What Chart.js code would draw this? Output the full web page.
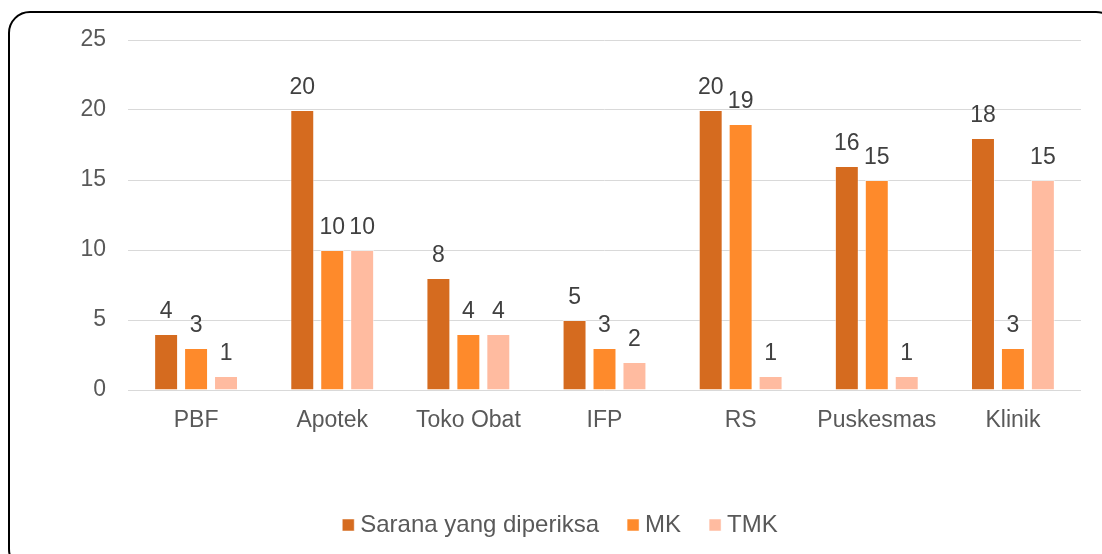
<!DOCTYPE html>
<html>
<head>
<meta charset="utf-8">
<script src="https://cdn.jsdelivr.net/npm/chart.js@4/dist/chart.umd.min.js"></script>
<style>
  html, body { margin: 0; padding: 0; background: #fff; }
  body { width: 1102px; height: 554px; position: relative; overflow: hidden; }
  #frame {
    position: absolute; left: 8px; top: 11px; width: 1110px; height: 560px;
    border: 2px solid #000; border-radius: 22px; box-sizing: border-box;
  }
  #wrap { position: absolute; left: 0; top: 0; width: 1102px; height: 554px; }
</style>
</head>
<body>
<div id="frame"></div>
<div id="wrap"><canvas id="chart" width="1102" height="554"></canvas></div>
<script>
const categories = ["PBF", "Apotek", "Toko Obat", "IFP", "RS", "Puskesmas", "Klinik"];
const sarana = [4, 20, 8, 5, 20, 16, 18];
const mk = [3, 10, 4, 3, 19, 15, 3];
const tmk = [1, 10, 4, 2, 1, 1, 15];
const yTicks = [0, 5, 10, 15, 20, 25];

const FONT = "'Liberation Sans', Arial, sans-serif";

// value above each bar
const valueLabels = {
    id: "valueLabels",
    afterDatasetsDraw(chart) {
        const ctx = chart.ctx;
        ctx.save();
        ctx.font = "23px " + FONT;
        ctx.fillStyle = "#404040";
        ctx.textAlign = "center";
        ctx.textBaseline = "alphabetic";
        chart.data.datasets.forEach((ds, i) => {
            chart.getDatasetMeta(i).data.forEach((bar, j) => {
                ctx.fillText(String(ds.data[j]), bar.x, bar.y - 16);
            });
        });
        ctx.restore();
    },
};

new Chart(document.getElementById("chart"), {
    type: "bar",
    data: {
        labels: categories,
        datasets: [
            { label: "Sarana yang diperiksa", data: sarana, backgroundColor: "#D56B1F" },
            { label: "MK", data: mk, backgroundColor: "#FE8A2B" },
            { label: "TMK", data: tmk, backgroundColor: "#FFBBA0" },
        ].map((d) => Object.assign(d, {
            borderColor: "rgba(255,255,255,0.5)",
            borderWidth: 1,
            categoryPercentage: 0.66,
            barPercentage: 0.8,
        })),
    },
    options: {
        responsive: false,
        animation: false,
        layout: { padding: { left: 45, right: 21, top: 40, bottom: 7 } },
        scales: {
            x: {
                grid: { display: false, drawTicks: false },
                border: { display: false },
                ticks: { color: "#595959", font: { family: FONT, size: 23 }, padding: 17 },
                afterFit: (s) => { s.height = 89; },
            },
            y: {
                min: 0,
                max: 25,
                afterBuildTicks: (s) => { s.ticks = yTicks.map((v) => ({ value: v })); },
                grid: { color: "#D9D9D9", lineWidth: 1, drawTicks: false },
                border: { display: false },
                ticks: { color: "#595959", font: { family: FONT, size: 23 }, padding: 22 },
                afterFit: (s) => { s.width = 83; },
            },
        },
        plugins: {
            legend: {
                position: "bottom",
                labels: {
                    color: "#595959",
                    font: { family: FONT, size: 24 },
                    usePointStyle: true,
                    pointStyle: "rect",
                    boxWidth: 0.01,
                    boxHeight: 12,
                    padding: 34,
                },
            },
            tooltip: { enabled: false },
        },
    },
    plugins: [valueLabels],
});
</script>
</body>
</html>
